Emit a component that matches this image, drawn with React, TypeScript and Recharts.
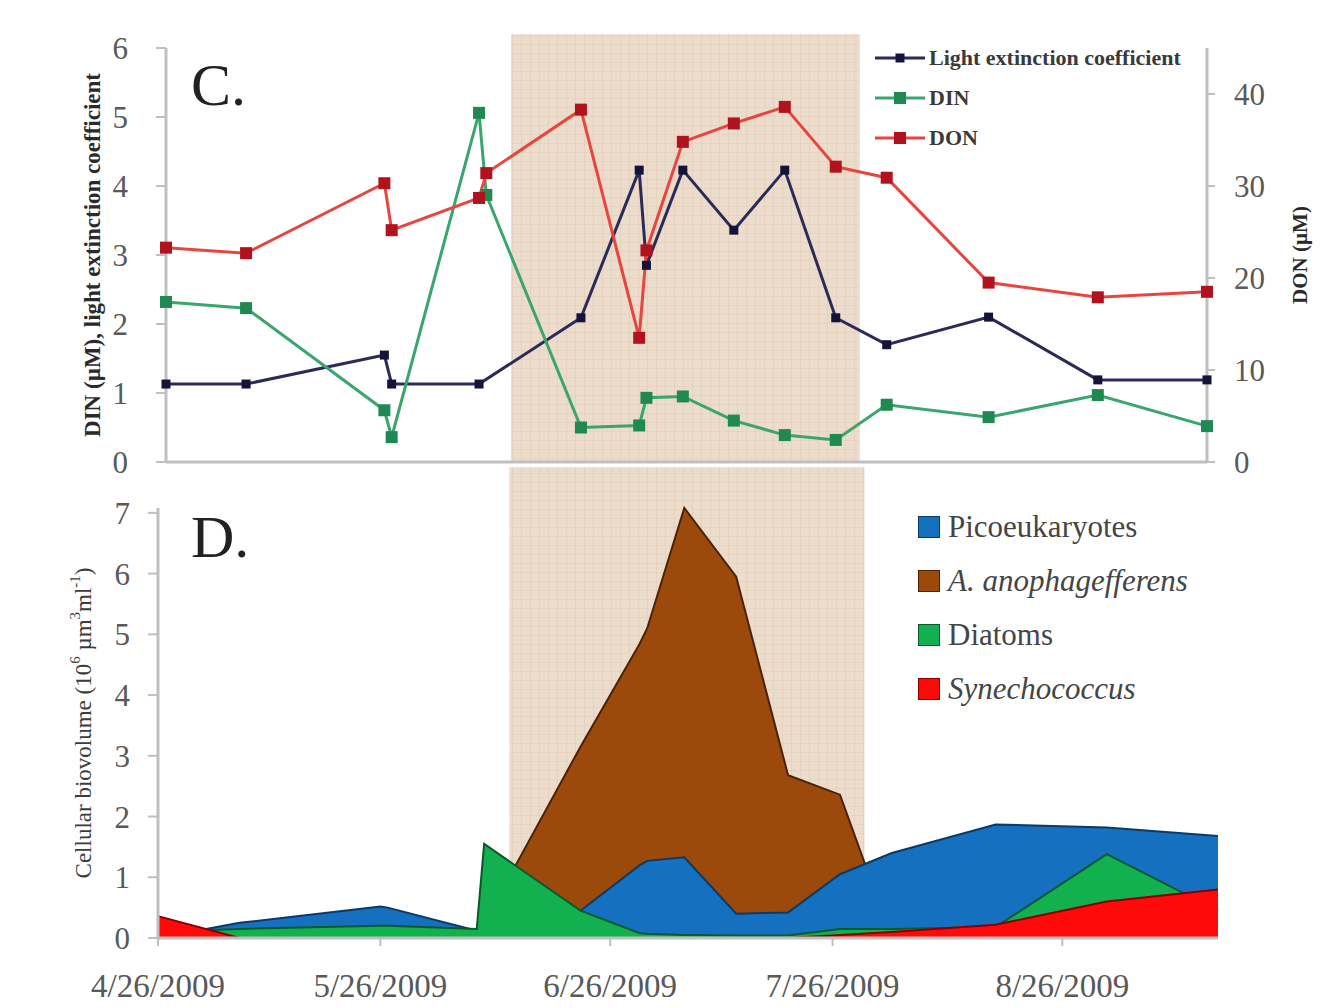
import React from 'react';
import {
  ComposedChart,
  Line,
  Area,
  XAxis,
  YAxis,
  ReferenceArea,
  Legend,
  Label,
} from 'recharts';

// days since 4/26/2009 for every sampling date
const sampleDays = [0, 11, 30, 31, 43, 44, 57, 65, 66, 71, 78, 85, 92, 99, 113, 128, 143];
const dateTicks = [0, 30, 61, 91, 122];
const dateLabels = ['4/26/2009', '5/26/2009', '6/26/2009', '7/26/2009', '8/26/2009'];

// panel C
const lightExtinction = [1.13, 1.13, 1.55, 1.13, 1.13, null, 2.09, 4.23, 2.85, 4.23, 3.36, 4.23, 2.09, 1.7, 2.1, 1.19, 1.19];
const dinValues = [2.32, 2.23, 0.75, 0.36, 5.06, 3.87, 0.5, 0.53, 0.93, 0.95, 0.6, 0.39, 0.32, 0.83, 0.65, 0.97, 0.52];
const donValues = [23.3, 22.7, 30.3, 25.2, 28.7, 31.4, 38.3, 13.5, 23.0, 34.8, 36.8, 38.6, 32.1, 30.9, 19.5, 17.9, 18.5];

// panel D
const picoeukaryotes = [0, 0.25, 0.52, 0.5, 0.12, 0.1, 0.45, 1.2, 1.27, 1.33, 0.4, 0.42, 1.05, 1.4, 1.87, 1.82, 1.68];
const anophagefferens = [null, null, null, null, 0, 0.25, 3.15, 4.85, 5.1, 7.08, 5.95, 2.68, 2.36, 0, null, null, null];
const diatoms = [0.1, 0.15, 0.2, 0.2, 0.15, 1.55, 0.45, 0.08, 0.07, 0.05, 0.04, 0.04, 0.15, 0.15, 0.18, 1.38, 0.45];
const synechococcus = [0.36, 0, null, null, null, null, null, null, null, null, null, 0, 0.05, 0.1, 0.22, 0.6, 0.8];

// brown tide period (days)
const bloomStart = 47.4;
const bloomEnd = 95.3;

const panelC = sampleDays.map((day, i) => ({
  day,
  light: lightExtinction[i],
  din: dinValues[i],
  don: donValues[i],
}));

const panelD = sampleDays.map((day, i) => ({
  day,
  pico: picoeukaryotes[i],
  aureo: anophagefferens[i],
  diatoms: diatoms[i],
  syn: synechococcus[i],
}));

const serif = '"Liberation Serif", "Times New Roman", serif';
const tickStyle = { fontSize: 31, fill: '#595959', fontFamily: serif };
const axisGray = '#bfbfbf';

const lineSeries = [
  { key: 'light', name: 'Light extinction coefficient', stroke: '#2b2b58', dot: '#14143a', size: 9, axis: 'left' },
  { key: 'din', name: 'DIN', stroke: '#3aa56c', dot: '#1e8a52', size: 12, axis: 'left' },
  { key: 'don', name: 'DON', stroke: '#e8453f', dot: '#b0121e', size: 12, axis: 'right' },
];

const areaSeries = [
  { key: 'aureo', name: 'A. anophagefferens', fill: '#9c4a0b', stroke: '#4a2306', italic: true },
  { key: 'pico', name: 'Picoeukaryotes', fill: '#1670c0', stroke: '#0b3a62', italic: false },
  { key: 'diatoms', name: 'Diatoms', fill: '#12b04f', stroke: '#0b5a2c', italic: false },
  { key: 'syn', name: 'Synechococcus', fill: '#ff0a0a', stroke: '#8a0000', italic: true },
];
const areaLegendOrder = ['pico', 'aureo', 'diatoms', 'syn'];

const squareDot = (size: number, fill: string) => (props: any) => {
  const { cx, cy, index } = props;
  if (cx == null || cy == null) return <g key={`dot-${index}`} />;
  return <rect key={`dot-${index}`} x={cx - size / 2} y={cy - size / 2} width={size} height={size} fill={fill} />;
};

const axisTitle = (text: React.ReactNode, dx: number, size: number, weight: string, color: string) => (props: any) => {
  const vb = props.viewBox;
  if (!vb) return null;
  const x = vb.x + dx;
  const y = vb.y + vb.height / 2;
  return (
    <text
      x={x}
      y={y}
      transform={`rotate(-90 ${x} ${y})`}
      textAnchor="middle"
      dominantBaseline="central"
      fontFamily={serif}
      fontSize={size}
      fontWeight={weight}
      fill={color}
    >
      {text}
    </text>
  );
};

const TopLegend = () => (
  <div style={{ fontFamily: serif }}>
    {lineSeries.map((s) => (
      <div key={s.key} style={{ display: 'flex', alignItems: 'center', height: 40 }}>
        <svg width={52} height={20}>
          <line x1={0} y1={10} x2={50} y2={10} stroke={s.stroke} strokeWidth={3} />
          <rect x={25 - s.size / 2} y={10 - s.size / 2} width={s.size} height={s.size} fill={s.dot} />
        </svg>
        <span style={{ fontSize: 22, fontWeight: 'bold', color: '#3a3a3a', marginLeft: 2 }}>{s.name}</span>
      </div>
    ))}
  </div>
);

const BottomLegend = () => (
  <div style={{ fontFamily: serif }}>
    {areaLegendOrder.map((k) => {
      const s = areaSeries.find((a) => a.key === k)!;
      return (
        <div key={k} style={{ display: 'flex', alignItems: 'center', height: 54 }}>
          <div style={{ width: 20, height: 20, background: s.fill, border: `1px solid ${s.stroke}` }} />
          <span style={{ fontSize: 31, color: '#454545', marginLeft: 8, fontStyle: s.italic ? 'italic' : 'normal' }}>
            {s.name}
          </span>
        </div>
      );
    })}
  </div>
);

const ShadePattern = ({ id }: { id: string }) => (
  <defs>
    <pattern id={id} width={9} height={9} patternUnits="userSpaceOnUse">
      <rect width={9} height={9} fill="#ecdccb" />
      <line x1={0} y1={0} x2={9} y2={0} stroke="#e2ccb8" strokeWidth={1} />
      <line x1={0} y1={0} x2={0} y2={9} stroke="#e0c8b3" strokeWidth={1} />
    </pattern>
  </defs>
);

const App: React.FC = () => {
  return (
    <div style={{ position: 'relative', width: 1340, height: 1008, background: '#fff', overflow: 'hidden' }}>
      <style>{'body { margin: 0; }'}</style>
      <div style={{ position: 'absolute', left: 8, top: 8, width: 1324, height: 1000, fontFamily: serif }}>
        <div style={{ position: 'absolute', left: 0, top: 0 }}>
          <ComposedChart width={1324} height={490} data={panelC} margin={{ top: 40, right: 0, bottom: 0, left: 0 }}>
            <ShadePattern id="shadeC" />
            <ReferenceArea
              yAxisId="left"
              x1={bloomStart}
              x2={bloomEnd}
              y1={0}
              y2={6.2}
              ifOverflow="visible"
              fill="url(#shadeC)"
              fillOpacity={1}
              stroke="none"
            />
            <XAxis
              dataKey="day"
              type="number"
              domain={[0, 143]}
              ticks={dateTicks}
              tick={false}
              height={36}
              tickSize={7}
              axisLine={{ stroke: axisGray, strokeWidth: 3 }}
              tickLine={{ stroke: axisGray, strokeWidth: 2 }}
            />
            <YAxis
              yAxisId="left"
              domain={[0, 6]}
              ticks={[0, 1, 2, 3, 4, 5, 6]}
              interval={0}
              width={158}
              tickSize={10}
              tickMargin={28}
              tick={tickStyle}
              axisLine={{ stroke: axisGray, strokeWidth: 3 }}
              tickLine={{ stroke: axisGray, strokeWidth: 2 }}
            >
              <Label content={axisTitle('DIN (µM), light extinction coefficient', 84, 23, 'bold', '#2a2a2a')} />
            </YAxis>
            <YAxis
              yAxisId="right"
              orientation="right"
              domain={[0, 45]}
              ticks={[0, 10, 20, 30, 40]}
              interval={0}
              width={125}
              tickSize={8}
              tickMargin={19}
              tick={tickStyle}
              axisLine={{ stroke: axisGray, strokeWidth: 3 }}
              tickLine={{ stroke: axisGray, strokeWidth: 2 }}
            >
              <Label content={axisTitle('DON (µM)', 93, 21, 'bold', '#2a2a2a')} />
            </YAxis>
            {lineSeries.map((s) => (
              <Line
                key={s.key}
                yAxisId={s.axis}
                type="linear"
                dataKey={s.key}
                name={s.name}
                stroke={s.stroke}
                strokeWidth={3}
                dot={squareDot(s.size, s.dot)}
                activeDot={false}
                connectNulls
                isAnimationActive={false}
              />
            ))}
            <Legend
              layout="vertical"
              align="center"
              verticalAlign="middle"
              content={TopLegend}
              wrapperStyle={{ left: 867, top: 30, width: 340 }}
            />
          </ComposedChart>
        </div>

        <div style={{ position: 'absolute', left: 0, top: 447 }}>
          <ComposedChart width={1324} height={553} data={panelD} margin={{ top: 53, right: 114, bottom: 0, left: 0 }}>
            <ShadePattern id="shadeD" />
            <ReferenceArea
              x1={bloomStart}
              x2={bloomEnd}
              y1={0}
              y2={7.75}
              ifOverflow="visible"
              fill="url(#shadeD)"
              fillOpacity={1}
              stroke="none"
            />
            <XAxis
              dataKey="day"
              type="number"
              domain={[0, 143]}
              ticks={dateTicks}
              interval={0}
              height={70}
              tickSize={8}
              tickMargin={28}
              tick={{ ...tickStyle, fontSize: 33 }}
              tickFormatter={(v: number) => dateLabels[dateTicks.indexOf(v)] ?? ''}
              axisLine={{ stroke: axisGray, strokeWidth: 3 }}
              tickLine={{ stroke: axisGray, strokeWidth: 2 }}
            />
            <YAxis
              domain={[0, 7]}
              ticks={[0, 1, 2, 3, 4, 5, 6, 7]}
              interval={0}
              width={150}
              tickSize={10}
              tickMargin={18}
              tick={tickStyle}
              axisLine={{ stroke: axisGray, strokeWidth: 3 }}
              tickLine={{ stroke: axisGray, strokeWidth: 2 }}
            >
              <Label
                content={axisTitle(
                  <>
                    Cellular biovolume (10
                    <tspan baselineShift="super" fontSize="0.65em">6</tspan> µm
                    <tspan baselineShift="super" fontSize="0.65em">3</tspan>ml
                    <tspan baselineShift="super" fontSize="0.65em">-1</tspan>)
                  </>,
                  75,
                  23,
                  'normal',
                  '#3c3c3c'
                )}
              />
            </YAxis>
            {areaSeries.map((s) => (
              <Area
                key={s.key}
                type="linear"
                dataKey={s.key}
                name={s.name}
                fill={s.fill}
                fillOpacity={1}
                stroke={s.stroke}
                strokeWidth={2}
                dot={false}
                activeDot={false}
                isAnimationActive={false}
              />
            ))}
            <Legend
              layout="vertical"
              align="center"
              verticalAlign="middle"
              content={BottomLegend}
              wrapperStyle={{ left: 910, top: 45, width: 330 }}
            />
          </ComposedChart>
        </div>

        <svg
          width={1324}
          height={1000}
          style={{ position: 'absolute', left: 0, top: 0, pointerEvents: 'none' }}
        >
          <text x={183} y={97} fontFamily={serif} fontSize={60} fill="#222">C.</text>
          <text x={183} y={549} fontFamily={serif} fontSize={60} fill="#222">D.</text>
        </svg>
      </div>
    </div>
  );
};

export default App;
